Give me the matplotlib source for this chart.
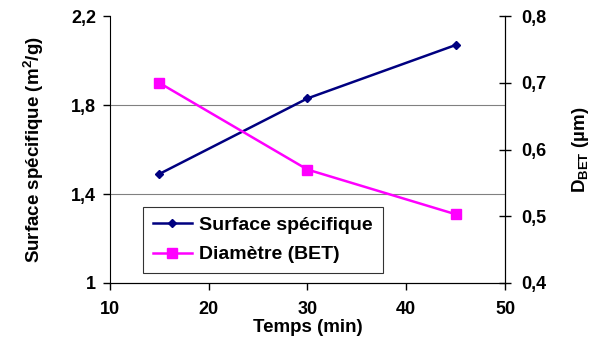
import matplotlib
matplotlib.use("Agg")
import matplotlib.pyplot as plt
from matplotlib.ticker import FuncFormatter

plt.rcParams['font.family'] = ['Liberation Sans', 'DejaVu Sans']
plt.rcParams['font.weight'] = 'bold'
plt.rcParams['mathtext.fontset'] = 'custom'
plt.rcParams['mathtext.rm'] = 'Liberation Sans:bold'
plt.rcParams['mathtext.it'] = 'Liberation Sans:bold'
plt.rcParams['mathtext.bf'] = 'Liberation Sans:bold'

temps = [15, 30, 45]
surface = [1.49, 1.83, 2.07]
diametre = [0.70, 0.57, 0.503]

fig = plt.figure(figsize=(5.97, 3.43), dpi=100)
ax = fig.add_axes([0.184, 0.175, 0.662, 0.778])
ax2 = ax.twinx()

comma = FuncFormatter(lambda v, p: ("%g" % v).replace('.', ','))

l1, = ax.plot(temps, surface, color='#000080', marker='D', markersize=4.5, lw=1.8,
              label='Surface spécifique')
l2, = ax2.plot(temps, diametre, color='#FF00FF', marker='s', markersize=7, lw=1.8,
               label='Diamètre (BET)')

ax.set_xlim(10, 50)
ax.set_ylim(1, 2.2)
ax.set_yticks([1, 1.4, 1.8, 2.2])
ax.set_xticks([10, 20, 30, 40, 50])
ax.yaxis.set_major_formatter(comma)
ax2.set_ylim(0.4, 0.8)
ax2.set_yticks([0.4, 0.5, 0.6, 0.7, 0.8])
ax2.yaxis.set_major_formatter(comma)

for y in [1.4, 1.8]:
    ax.axhline(y, color='#808080', lw=0.8, zorder=0)

for a in (ax, ax2):
    a.spines['top'].set_visible(False)
    a.tick_params(labelsize=13, width=1, length=5, color='black')
ax2.spines['left'].set_visible(False)
ax2.tick_params(axis='y', direction='inout', length=8, pad=8)
ax.tick_params(axis='x', pad=8)
ax.tick_params(axis='y', pad=5)

ax.set_xlabel('Temps (min)', fontsize=13.5, fontweight='bold', labelpad=1)
ax.set_ylabel('Surface spécifique (m$^2$/g)', fontsize=13.5, fontweight='bold', labelpad=18)
ax2.set_ylabel('D$_{\\mathrm{BET}}$ (µm)', fontsize=13.5, fontweight='bold', labelpad=17)

leg = ax2.legend(handles=[l1, l2], loc='lower left', bbox_to_anchor=(0.084, 0.037),
                 fontsize=14, frameon=True, fancybox=False, edgecolor='black',
                 borderpad=0.5, labelspacing=0.6, handlelength=2.0, handletextpad=0.4,
                 borderaxespad=0)
leg.get_frame().set_linewidth(0.8)

fig.savefig('out.png', dpi=100)
